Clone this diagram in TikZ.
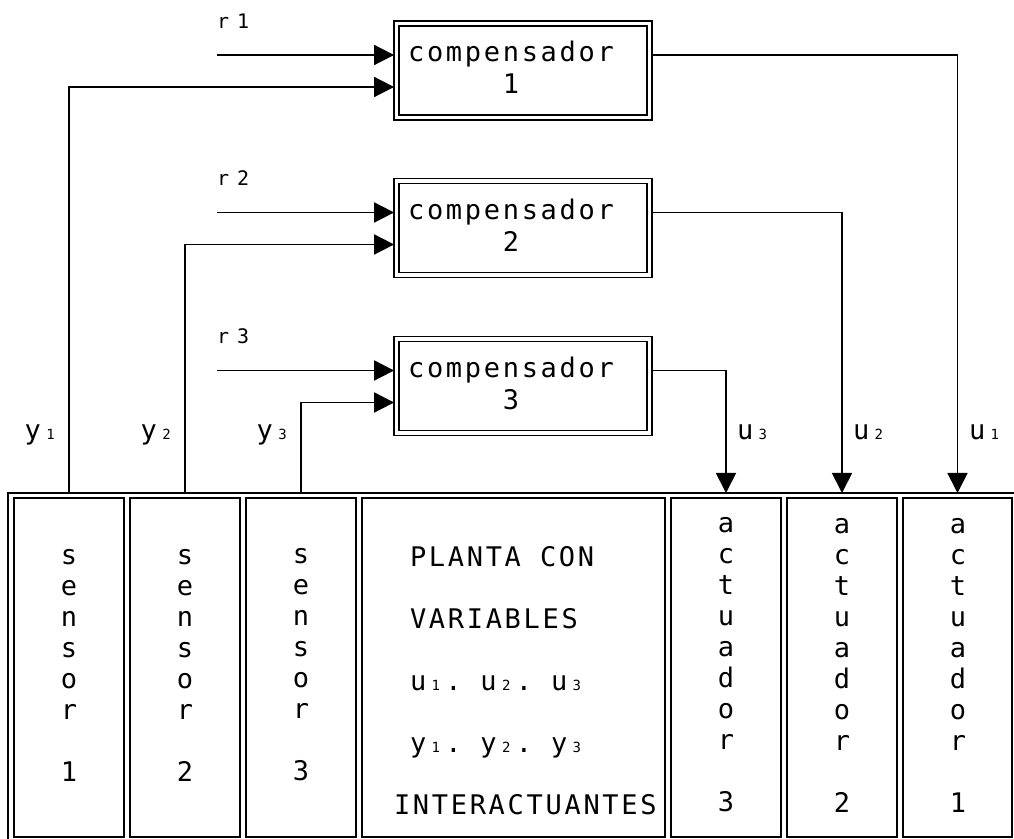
\documentclass[tikz,border=0pt]{standalone}
\usepackage{fontspec}
\usetikzlibrary{arrows.meta,calc}
\newfontfamily\plotfont{DejaVu Sans Mono}[LetterSpace=10]
\newfontfamily\plotwide{DejaVu Sans Mono}[LetterSpace=40]
\newfontfamily\plotsub{DejaVu Sans Mono}
\newcommand\sd[1]{\makebox[9.5pt][c]{\plotsub\fontsize{7pt}{7pt}\selectfont #1}}
\newcommand\pgap{\hspace*{9.5pt}}
\begin{document}
\begin{tikzpicture}[x=0.5pt,y=-0.5pt,line width=0.9pt,
  every node/.style={inner sep=0pt,outer sep=0pt},
  font=\plotfont\fontsize{13.5pt}{15.5pt}\selectfont,
  cell/.style={draw,anchor=north west,minimum height=169.5pt},
  compbox/.style={draw,double=white,double distance=1.6pt,minimum width=126.5pt,minimum height=47pt},
  sig/.style={-{Triangle[length=10pt,width=10pt]}},
  insig/.style={sig,shorten >=1.2pt},
  vtext/.style={align=center,font=\plotfont\fontsize{13.5pt}{15.5pt}\selectfont},
  ctext/.style={align=center,font=\plotfont\fontsize{13.5pt}{16pt}\selectfont},
  rlbl/.style={anchor=base west,font=\plotwide\fontsize{10pt}{10pt}\selectfont},
  ylbl/.style={anchor=base east},
  ulbl/.style={anchor=base west}]
\clip (0,0) rectangle (1014,839);
\fill[white] (0,0) rectangle (1014,839);
% plant block
\node[draw,anchor=north west,minimum width=510pt,minimum height=180pt] (frame) at (8,493) {};
\node[cell,minimum width=55pt] (s1) at (14,498) {};
\node[cell,minimum width=55pt] (s2) at (130,498) {};
\node[cell,minimum width=55pt] (s3) at (246,498) {};
\node[cell,minimum width=151.5pt] (pl) at (362,498) {};
\node[cell,minimum width=55pt] (a3) at (671,498) {};
\node[cell,minimum width=55pt] (a2) at (787,498) {};
\node[cell,minimum width=54.5pt] (a1) at (903,498) {};
\node[vtext] (s1t) at (69,665) {s\\e\\n\\s\\o\\r\\[15.5pt]1};
\node[vtext] (s2t) at (185,665) {s\\e\\n\\s\\o\\r\\[15.5pt]2};
\node[vtext] (s3t) at (301,665) {s\\e\\n\\s\\o\\r\\[15.5pt]3};
\node[vtext] (a3t) at (726,665) {a\\c\\t\\u\\a\\d\\o\\r\\[15.5pt]3};
\node[vtext] (a2t) at (842,665) {a\\c\\t\\u\\a\\d\\o\\r\\[15.5pt]2};
\node[vtext] (a1t) at (958,665) {a\\c\\t\\u\\a\\d\\o\\r\\[15.5pt]1};
\node[anchor=west,align=left,font=\plotfont\fontsize{13.5pt}{31pt}\selectfont] (plt) at (410,681)
  {PLANTA\pgap CON\\VARIABLES\\u\sd{1}.\pgap u\sd{2}.\pgap u\sd{3}\\y\sd{1}.\pgap y\sd{2}.\pgap y\sd{3}\\\hspace*{-8pt}INTERACTUANTES};
% compensators
\node[compbox] (c1) at (523,70.5) {};
\node[compbox] (c2) at (523,228) {};
\node[compbox] (c3) at (523,386) {};
\node[ctext] (c1t) at (511,67) {compensador\\1};
\node[ctext] (c2t) at (511,225) {compensador\\2};
\node[ctext] (c3t) at (511,383) {compensador\\3};
% references
\coordinate (r1s) at (217,55);
\coordinate (r2s) at (217,212.5);
\coordinate (r3s) at (217,370.5);
\node[rlbl] (r1l) at (217,29) {r1};
\node[rlbl] (r2l) at (217,186) {r2};
\node[rlbl] (r3l) at (217,344) {r3};
\draw[insig] (r1s) -- (r1s -| c1.west);
\draw[insig] (r2s) -- (r2s -| c2.west);
\draw[insig] (r3s) -- (r3s -| c3.west);
% feedback
\draw[insig] (s1.north |- frame.north) |- ($(c1.west)+(0,16.5)$);
\draw[insig] (s2.north |- frame.north) |- ($(c2.west)+(0,16.5)$);
\draw[insig] (s3.north |- frame.north) |- ($(c3.west)+(0,16.5)$);
\node[ylbl] (y1l) at (60,440) {y\sd{1}};
\node[ylbl] (y2l) at (176,440) {y\sd{2}};
\node[ylbl] (y3l) at (292,440) {y\sd{3}};
% control outputs
\draw[sig] ($(c1.east)+(2.5,-15.5)$) -| (a1.north |- frame.north);
\draw[sig] ($(c2.east)+(2.5,-15.5)$) -| (a2.north |- frame.north);
\draw[sig] ($(c3.east)+(2.5,-15.5)$) -| (a3.north |- frame.north);
\node[ulbl] (u3l) at (737,440) {u\sd{3}};
\node[ulbl] (u2l) at (853,440) {u\sd{2}};
\node[ulbl] (u1l) at (969,440) {u\sd{1}};
\end{tikzpicture}
\end{document}
